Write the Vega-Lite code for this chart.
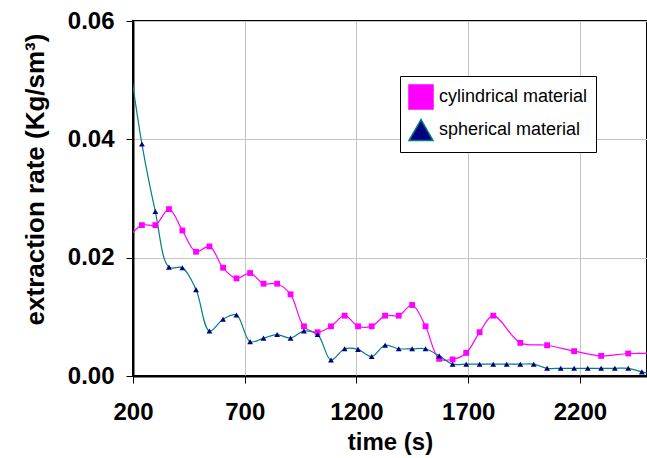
{
  "$schema": "https://vega.github.io/schema/vega-lite/v6.json",
  "width": 514,
  "height": 355,
  "autosize": "none",
  "padding": {"left": 133, "top": 21, "right": 0, "bottom": 82},
  "background": "white",
  "config": {
    "font": "Liberation Sans",
    "view": {"stroke": "black", "strokeWidth": 2},
    "axis": {
      "labelFont": "Liberation Sans", "labelFontSize": 24, "labelFontWeight": "bold", "labelColor": "black",
      "titleFont": "Liberation Sans", "titleFontSize": 24, "titleFontWeight": "bold", "titleColor": "black",
      "domainColor": "black", "domainWidth": 2, "tickColor": "black", "tickSize": 7, "tickWidth": 1,
      "gridColor": "#c4c4c4", "gridWidth": 1
    },
    "legend": {
      "disable": false, "orient": "none", "legendX": 267, "legendY": 55,
      "labelFont": "Liberation Sans", "labelFontSize": 18, "labelColor": "black",
      "symbolSize": 576, "labelOffset": 5, "padding": 8, "rowPadding": 4,
      "strokeColor": "black", "fillColor": "white"
    }
  },
  "data": {
    "values": [
      {"series": "cylindrical material", "time": 180, "value": 0.0234},
      {"series": "cylindrical material", "time": 240, "value": 0.0255},
      {"series": "cylindrical material", "time": 300, "value": 0.0255},
      {"series": "cylindrical material", "time": 361, "value": 0.0282},
      {"series": "cylindrical material", "time": 421, "value": 0.0246},
      {"series": "cylindrical material", "time": 482, "value": 0.0210},
      {"series": "cylindrical material", "time": 542, "value": 0.0219},
      {"series": "cylindrical material", "time": 603, "value": 0.0183},
      {"series": "cylindrical material", "time": 663, "value": 0.0165},
      {"series": "cylindrical material", "time": 724, "value": 0.0174},
      {"series": "cylindrical material", "time": 784, "value": 0.0156},
      {"series": "cylindrical material", "time": 845, "value": 0.0156},
      {"series": "cylindrical material", "time": 905, "value": 0.0138},
      {"series": "cylindrical material", "time": 965, "value": 0.0084},
      {"series": "cylindrical material", "time": 1026, "value": 0.0074},
      {"series": "cylindrical material", "time": 1086, "value": 0.0084},
      {"series": "cylindrical material", "time": 1147, "value": 0.0102},
      {"series": "cylindrical material", "time": 1207, "value": 0.0084},
      {"series": "cylindrical material", "time": 1268, "value": 0.0084},
      {"series": "cylindrical material", "time": 1328, "value": 0.0102},
      {"series": "cylindrical material", "time": 1389, "value": 0.0102},
      {"series": "cylindrical material", "time": 1449, "value": 0.0120},
      {"series": "cylindrical material", "time": 1509, "value": 0.0084},
      {"series": "cylindrical material", "time": 1570, "value": 0.0029},
      {"series": "cylindrical material", "time": 1630, "value": 0.0028},
      {"series": "cylindrical material", "time": 1691, "value": 0.0039},
      {"series": "cylindrical material", "time": 1751, "value": 0.0074},
      {"series": "cylindrical material", "time": 1812, "value": 0.0102},
      {"series": "cylindrical material", "time": 1933, "value": 0.0056},
      {"series": "cylindrical material", "time": 2053, "value": 0.0052},
      {"series": "cylindrical material", "time": 2174, "value": 0.0042},
      {"series": "cylindrical material", "time": 2295, "value": 0.0034},
      {"series": "cylindrical material", "time": 2416, "value": 0.0038},
      {"series": "cylindrical material", "time": 2537, "value": 0.0038},
      {"series": "spherical material", "time": 180, "value": 0.0544},
      {"series": "spherical material", "time": 240, "value": 0.0392},
      {"series": "spherical material", "time": 300, "value": 0.0278},
      {"series": "spherical material", "time": 361, "value": 0.0184},
      {"series": "spherical material", "time": 421, "value": 0.0183},
      {"series": "spherical material", "time": 482, "value": 0.0146},
      {"series": "spherical material", "time": 542, "value": 0.0076},
      {"series": "spherical material", "time": 603, "value": 0.0096},
      {"series": "spherical material", "time": 663, "value": 0.0103},
      {"series": "spherical material", "time": 724, "value": 0.0058},
      {"series": "spherical material", "time": 784, "value": 0.0064},
      {"series": "spherical material", "time": 845, "value": 0.0070},
      {"series": "spherical material", "time": 905, "value": 0.0064},
      {"series": "spherical material", "time": 965, "value": 0.0076},
      {"series": "spherical material", "time": 1026, "value": 0.0070},
      {"series": "spherical material", "time": 1086, "value": 0.0027},
      {"series": "spherical material", "time": 1147, "value": 0.0046},
      {"series": "spherical material", "time": 1207, "value": 0.0045},
      {"series": "spherical material", "time": 1268, "value": 0.0033},
      {"series": "spherical material", "time": 1328, "value": 0.0052},
      {"series": "spherical material", "time": 1389, "value": 0.0046},
      {"series": "spherical material", "time": 1449, "value": 0.0046},
      {"series": "spherical material", "time": 1509, "value": 0.0046},
      {"series": "spherical material", "time": 1570, "value": 0.0034},
      {"series": "spherical material", "time": 1630, "value": 0.0020},
      {"series": "spherical material", "time": 1691, "value": 0.0020},
      {"series": "spherical material", "time": 1751, "value": 0.0020},
      {"series": "spherical material", "time": 1812, "value": 0.0020},
      {"series": "spherical material", "time": 1872, "value": 0.0020},
      {"series": "spherical material", "time": 1933, "value": 0.0020},
      {"series": "spherical material", "time": 1993, "value": 0.0020},
      {"series": "spherical material", "time": 2053, "value": 0.0013},
      {"series": "spherical material", "time": 2114, "value": 0.0013},
      {"series": "spherical material", "time": 2174, "value": 0.0013},
      {"series": "spherical material", "time": 2235, "value": 0.0013},
      {"series": "spherical material", "time": 2295, "value": 0.0013},
      {"series": "spherical material", "time": 2356, "value": 0.0013},
      {"series": "spherical material", "time": 2416, "value": 0.0013},
      {"series": "spherical material", "time": 2477, "value": 0.0007},
      {"series": "spherical material", "time": 2537, "value": 0.0002}
    ]
  },
  "encoding": {
    "x": {
      "field": "time", "type": "quantitative",
      "scale": {"domain": [200, 2500], "nice": false, "zero": false},
      "axis": {"title": "time (s)", "values": [200, 700, 1200, 1700, 2200], "format": "d", "labelPadding": 17, "titlePadding": 6, "labelFlush": false}
    },
    "y": {
      "field": "value", "type": "quantitative",
      "scale": {"domain": [0, 0.06], "nice": false},
      "axis": {"title": "extraction rate (Kg/sm³)", "values": [0, 0.02, 0.04, 0.06], "format": ".2f", "labelPadding": 12, "titlePadding": 19, "titleFontSize": 26, "titleY": 158}
    }
  },
  "layer": [
    {
      "mark": {"type": "line", "interpolate": "catmull-rom", "strokeWidth": 1.2, "clip": true},
      "encoding": {
        "stroke": {
          "field": "series", "type": "nominal", "title": null,
          "scale": {"domain": ["cylindrical material", "spherical material"], "range": ["#ff00ff", "#008080"]}
        }
      }
    },
    {
      "mark": {"type": "point", "filled": true, "clip": true, "opacity": 1, "size": 34, "strokeWidth": 0},
      "encoding": {
        "fill": {
          "field": "series", "type": "nominal", "title": null,
          "scale": {"domain": ["cylindrical material", "spherical material"], "range": ["#ff00ff", "#000080"]}
        },
        "shape": {
          "field": "series", "type": "nominal", "title": null,
          "scale": {"domain": ["cylindrical material", "spherical material"], "range": ["square", "triangle-up"]},
          "legend": {
            "encode": {"symbols": {
              "shape": {"value": {"expr": "datum.value == 'cylindrical material' ? 'M-1,0H1M-0.22,-0.22H0.22V0.22H-0.22Z' : 'M-1,0H1M0,-0.28L0.27,0.2H-0.27Z'"}},
              "fill": {"value": {"expr": "datum.value == 'cylindrical material' ? '#ff00ff' : '#000080'"}},
              "stroke": {"value": {"expr": "datum.value == 'cylindrical material' ? '#ff00ff' : '#008080'"}},
              "strokeWidth": {"value": 1},
              "opacity": {"value": 1}
            }}
          }
        }
      }
    }
  ]
}
